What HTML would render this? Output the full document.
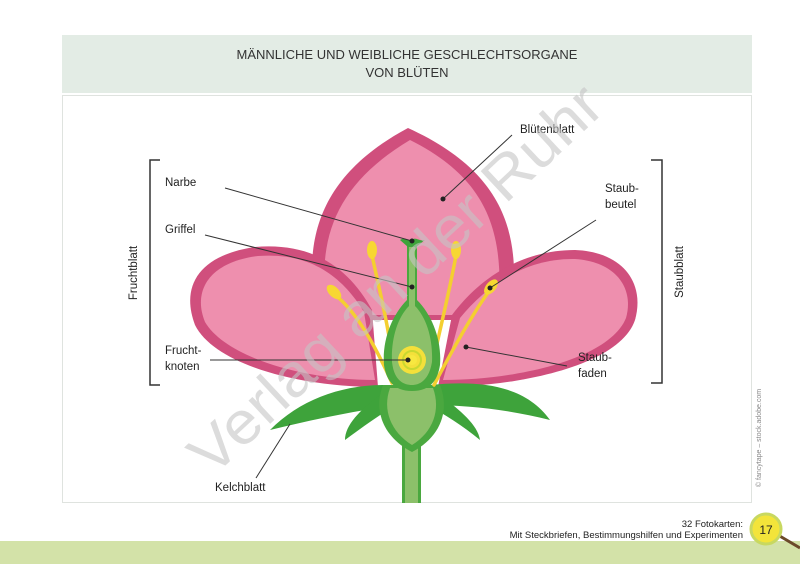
<!DOCTYPE html>
<html><head><meta charset="utf-8"><style>
html,body{margin:0;padding:0;background:#fff;}
svg{display:block;font-family:"Liberation Sans",sans-serif;}
</style></head><body>
<svg width="800" height="564" viewBox="0 0 800 564" xmlns="http://www.w3.org/2000/svg">
<rect width="800" height="564" fill="#fff"/>
<rect x="62" y="35" width="690" height="58" fill="#e3ece5"/>
<text x="407" y="59" font-size="13" text-anchor="middle" fill="#333">MÄNNLICHE UND WEIBLICHE GESCHLECHTSORGANE</text>
<text x="407" y="77" font-size="13" text-anchor="middle" fill="#333">VON BLÜTEN</text>
<rect x="62.5" y="95.5" width="689" height="407" fill="#fff" stroke="#dfe3df"/>
<!-- back petal -->
<path d="M318,320 C300,240 320,175 408,128 C500,170 525,230 510,320 Z" fill="#d04f7d"/>
<path d="M328,315 C315,240 335,185 410,140 C490,180 505,235 498,315 Z" fill="#ee8fae"/>
<!-- left petal -->
<path d="M378,387 C300,387 215,365 195,325 C180,285 200,255 255,247 C315,242 350,270 372,310 Z" fill="#d04f7d"/>
<path d="M375,380 C300,380 225,356 205,322 C192,290 210,262 258,256 C310,252 342,276 364,312 Z" fill="#ee8fae"/>
<!-- right petal -->
<path d="M438,387 C520,387 620,365 635,320 C645,285 625,252 575,250 C520,250 478,280 452,315 Z" fill="#d04f7d"/>
<path d="M443,380 C520,380 610,358 626,318 C634,290 618,262 575,259 C525,258 486,286 460,318 Z" fill="#ee8fae"/>
<!-- sepals -->
<path d="M385,385 C340,385 300,400 270,430 C310,420 350,412 395,405 Z" fill="#3ea33b"/>
<path d="M430,385 C480,380 525,385 550,420 C510,410 470,405 425,405 Z" fill="#3ea33b"/>
<path d="M380,395 C360,410 345,425 345,440 C365,425 380,415 395,405 Z" fill="#3ea33b"/>
<path d="M440,395 C460,410 478,425 480,440 C462,425 445,415 428,405 Z" fill="#3ea33b"/>
<!-- stem -->
<rect x="404" y="430" width="15" height="73" fill="#8cc06a"/>
<rect x="402" y="430" width="3" height="73" fill="#4aa83f"/>
<rect x="418" y="430" width="3" height="73" fill="#4aa83f"/>
<!-- receptacle -->
<path d="M383,385 C373,410 383,437 412,452 C441,437 450,410 440,385 Z" fill="#4aa83f"/>
<path d="M390,388 C382,410 391,432 412,445 C433,432 441,410 433,388 Z" fill="#8cc06a"/>
<!-- filaments -->
<g stroke="#f4cf30" stroke-width="3.5" fill="none" stroke-linecap="round">
<path d="M392,383 C375,345 355,310 335,295"/>
<path d="M396,383 C390,330 377,280 372,255"/>
<path d="M428,383 C440,330 452,280 456,255"/>
<path d="M434,385 C455,345 475,310 490,290"/>
</g>
<g fill="#f7d732">
<ellipse cx="334" cy="292" rx="5" ry="9" transform="rotate(-45 334 292)"/>
<ellipse cx="372" cy="250" rx="5" ry="9"/>
<ellipse cx="456" cy="250" rx="5" ry="9"/>
<ellipse cx="491" cy="287" rx="5" ry="9" transform="rotate(40 491 287)"/>
</g>
<!-- pistil -->
<path d="M407,245 L417,245 L417,300 C432,315 442,340 440,365 C437,385 426,391 412,391 C398,391 387,385 384,365 C382,340 392,315 407,300 Z" fill="#4aa83f"/>
<path d="M409,245 L415,245 L415,306 C427,318 433,340 432,362 C429,380 420,385 412,385 C403,385 394,380 392,362 C391,340 397,318 409,306 Z" fill="#8cc06a"/>
<circle cx="412" cy="360" r="14" fill="#f4e03a"/>
<circle cx="412" cy="360" r="9" fill="none" stroke="#c9d830" stroke-width="2"/>
<circle cx="412" cy="360" r="5" fill="#f7e840"/>
<path d="M400,240 C405,236 410,242 412,240 C415,236 420,242 425,240 L416,247 L408,247 Z" fill="#3ea33b"/>
<!-- leader lines -->
<g stroke="#333" stroke-width="1">
<line x1="225" y1="188" x2="412" y2="241"/>
<line x1="205" y1="235" x2="412" y2="287"/>
<line x1="210" y1="360" x2="408" y2="360"/>
<line x1="256" y1="478" x2="290" y2="424"/>
<line x1="512" y1="135" x2="443" y2="199"/>
<line x1="596" y1="220" x2="490" y2="288"/>
<line x1="567" y1="366" x2="466" y2="347"/>
</g>
<g fill="#222">
<circle cx="412" cy="241" r="2.5"/><circle cx="412" cy="287" r="2.5"/><circle cx="408" cy="360" r="2.5"/>
<circle cx="443" cy="199" r="2.5"/><circle cx="490" cy="288" r="2.5"/><circle cx="466" cy="347" r="2.5"/>
</g>
<!-- brackets -->
<path d="M160,160 H150 V385 H160" fill="none" stroke="#333" stroke-width="1.5"/>
<path d="M651,160 H662 V383 H651" fill="none" stroke="#333" stroke-width="1.5"/>
<g font-size="11.5" fill="#222">
<text x="165" y="186">Narbe</text>
<text x="165" y="233">Griffel</text>
<text x="165" y="354">Frucht-</text>
<text x="165" y="370">knoten</text>
<text x="215" y="491">Kelchblatt</text>
<text x="520" y="133">Blütenblatt</text>
<text x="605" y="192">Staub-</text>
<text x="605" y="208">beutel</text>
<text x="578" y="361">Staub-</text>
<text x="578" y="377">faden</text>
<text transform="translate(137,273) rotate(-90)" text-anchor="middle">Fruchtblatt</text>
<text transform="translate(683,272) rotate(-90)" text-anchor="middle">Staubblatt</text>
</g>
<text transform="translate(761,438) rotate(-90)" text-anchor="middle" font-size="7" fill="#888">© fancytape – stock.adobe.com</text>
<!-- watermark -->
<text transform="translate(212,478) rotate(-43)" font-size="60" fill="#c4c4c4" fill-opacity="0.6" textLength="540" lengthAdjust="spacingAndGlyphs">Verlag an der Ruhr</text>
<!-- footer -->
<rect x="0" y="541" width="800" height="23" fill="#d3e2a8"/>
<text x="743" y="527" font-size="9.5" text-anchor="end" fill="#222">32 Fotokarten:</text>
<text x="743" y="538" font-size="9.5" text-anchor="end" fill="#222">Mit Steckbriefen, Bestimmungshilfen und Experimenten</text>
<line x1="778" y1="535" x2="800" y2="548" stroke="#6b4a2a" stroke-width="3"/>
<circle cx="766" cy="529" r="15" fill="#f3e43a" stroke="#c8d860" stroke-width="3"/>
<text x="766" y="534" font-size="12" text-anchor="middle" fill="#222">17</text>
</svg>
</body></html>
